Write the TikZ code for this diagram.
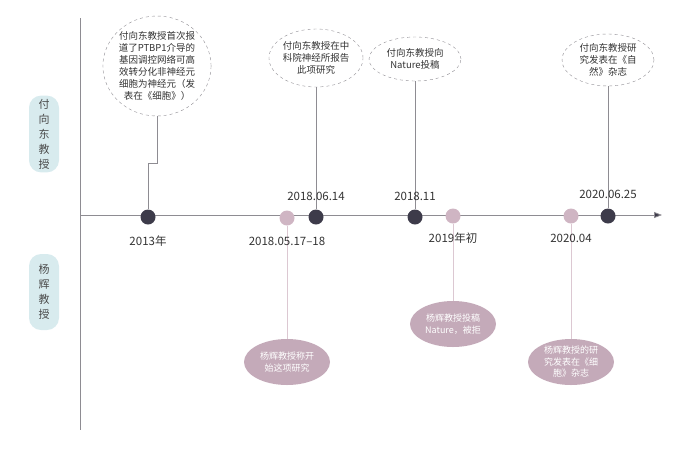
\documentclass[tikz,border=0pt]{standalone}
\usepackage{fontspec}
\setmainfont{Noto Sans CJK SC}
\usetikzlibrary{arrows.meta,shapes.geometric}
\definecolor{dk}{HTML}{3D3B4A}
\definecolor{pk}{HTML}{CFB5C3}
\definecolor{pkf}{HTML}{C4AAB9}
\definecolor{pkl}{HTML}{DCC8D2}
\definecolor{bl}{HTML}{D8EBEE}
\definecolor{gl}{HTML}{8E8C92}
\begin{document}
\begin{tikzpicture}[x=1pt,y=-1pt,
  dkdot/.style={circle,fill=dk,minimum size=15pt,inner sep=0},
  pkdot/.style={circle,fill=pk,minimum size=15pt,inner sep=0},
  dashell/.style={ellipse,draw=gl,dashed,fill=white,align=center,font=\fontsize{9.5}{12}\selectfont,text=black!80,inner sep=0},
  pkell/.style={ellipse,fill=pkf,align=center,font=\fontsize{9}{11.5}\selectfont,text=white,inner sep=0,minimum width=86pt,minimum height=46pt},
  datelbl/.style={font=\fontsize{11.5}{13}\selectfont,text=black!80},
  pill/.style={rounded corners=12pt,fill=bl,minimum width=30pt,align=center,font=\fontsize{11}{15}\selectfont,text=black!70},
  conn/.style={draw=gl,line width=0.8pt},
  pconn/.style={draw=pkl,line width=0.8pt}]
\useasboundingbox (0,0) rectangle (700,448);
\draw[gl,line width=0.8pt] (80,18) -- (80,430);
\coordinate (tl0) at (80,215);
\coordinate (tl1) at (662,215);
\draw[gl,line width=0.8pt,-{Triangle[length=8pt,width=6pt,fill=dk]}] (tl0) -- (tl1);
\node[pill,minimum height=72pt] (pf) at (44,134) {付\\向\\东\\教\\授};
\node[pill,minimum height=76pt] (py) at (44,292) {杨\\辉\\教\\授};
\node[dashell,minimum width=104pt,minimum height=100pt] (e1) at (157,66) {付向东教授首次报\\道了PTBP1介导的\\基因调控网络可高\\效转分化非神经元\\细胞为神经元（发\\表在《细胞》）};
\node[dashell,minimum width=90pt,minimum height=58pt] (e2) at (316,58) {付向东教授在中\\科院神经所报告\\此项研究};
\node[dashell,minimum width=92pt,minimum height=44pt] (e3) at (415,59) {付向东教授向\\Nature投稿};
\node[dashell,minimum width=92pt,minimum height=52pt] (e4) at (608,60) {付向东教授研\\究发表在《自\\然》杂志};
\node[dkdot] (d1) at (148,217) {};
\node[dkdot] (d2) at (316,217) {};
\node[dkdot] (d3) at (415,217) {};
\node[dkdot] (d4) at (608,216) {};
\node[pkdot] (p1) at (287,218) {};
\node[pkdot] (p2) at (453,216) {};
\node[pkdot] (p3) at (571,216) {};
\node[pkell] (q1) at (287,362) {杨辉教授称开\\始这项研究};
\node[pkell] (q2) at (453,324) {杨辉教授投稿\\Nature，被拒};
\node[pkell] (q3) at (571,362) {杨辉教授的研\\究发表在《细\\胞》杂志};
\coordinate (k1) at (157,163);
\coordinate (k2) at (148,163);
\draw[conn] (e1.south) -- (k1) -- (k2) -- (d1.north);
\draw[conn] (e2.south) -- (d2.north);
\draw[conn] (e3.south) -- (d3.north);
\draw[conn] (e4.south) -- (d4.north);
\draw[pconn] (p1.south) -- (q1.north);
\draw[pconn] (p2.south) -- (q2.north);
\draw[pconn] (p3.south) -- (q3.north);
\node[datelbl] (l1) at (148,241) {2013年};
\node[datelbl] (l2) at (287,241) {2018.05.17–18};
\node[datelbl] (l3) at (316,196) {2018.06.14};
\node[datelbl] (l4) at (415,196) {2018.11};
\node[datelbl] (l5) at (453,238) {2019年初};
\node[datelbl] (l6) at (571,238) {2020.04};
\node[datelbl] (l7) at (608,194) {2020.06.25};
\end{tikzpicture}
\end{document}
